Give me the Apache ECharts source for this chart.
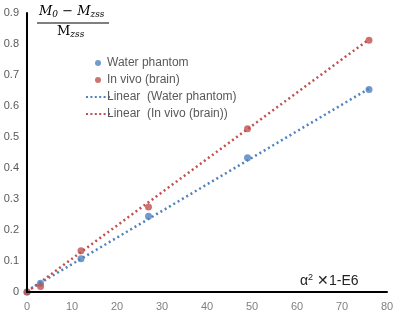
<!DOCTYPE html>
<html>
<head>
<meta charset="utf-8">
<script src="https://cdn.jsdelivr.net/npm/echarts@6/dist/echarts.min.js"></script>
<style>
    html, body { margin: 0; padding: 0; background: #fff; }
    .chart { width: 400px; height: 330px; position: absolute; left: 0; top: 0; }
</style>
</head>
<body>
<div id="chart" class="chart"></div>
<div id="axes" class="chart" style="pointer-events:none"></div>
<script>
// 数据
const seriesNames = ['Water phantom', 'In vivo (brain)', 'Linear  (Water phantom)', 'Linear  (In vivo (brain))'];
const alphaSq = [0, 3, 12, 27, 49, 76];
const waterValues = [0, 0.028, 0.107, 0.244, 0.433, 0.653];
const brainValues = [0, 0.018, 0.133, 0.274, 0.527, 0.812];
const trendX = [0, 76];
const waterTrend = [0.004, 0.656];
const brainTrend = [0, 0.815];
const xTicks = [0, 10, 20, 30, 40, 50, 60, 70, 80];
const yMax = 0.9;

function pairs(xs, ys) {
    return xs.map((x, i) => [x, ys[i]]);
}

// 图例里的点线
const dottedIcon = 'path://M0,0h2v2h-2zM4.4,0h2v2h-2zM8.8,0h2v2h-2zM13.2,0h2v2h-2zM17.6,0h2v2h-2zM22,0h2v2h-2z';
const gridBox = { left: 27, right: 13, top: 13, bottom: 38 };

function initChart() {
    const chart = echarts.init(document.getElementById('chart'));
    const blue = '#4F81BD';
    const red = '#C0504D';
    const option = {
        animation: false,
        textStyle: { fontFamily: 'Liberation Sans' },
        grid: gridBox,
        legend: {
            orient: 'vertical',
            left: 86,
            top: 57,
            padding: 0,
            itemGap: 5,
            itemWidth: 24,
            itemHeight: 6,
            textStyle: { color: '#595959', fontSize: 12, padding: [0, 0, 0, -8] },
            data: [
                { name: seriesNames[0], icon: 'circle' },
                { name: seriesNames[1], icon: 'circle' },
                { name: seriesNames[2], icon: dottedIcon },
                { name: seriesNames[3], icon: dottedIcon }
            ]
        },
        xAxis: {
            type: 'value',
            min: xTicks[0],
            max: xTicks[xTicks.length - 1],
            interval: 10,
            splitLine: { show: false },
            axisTick: { show: false },
            axisLine: { show: false },
            axisLabel: { color: '#808080', fontSize: 11, margin: 9 }
        },
        yAxis: {
            type: 'value',
            min: 0,
            max: yMax,
            interval: 0.1,
            splitLine: { show: false },
            axisTick: { show: false },
            axisLine: { show: false },
            axisLabel: { color: '#595959', fontSize: 11, margin: 8 }
        },
        graphic: [
            {
                type: 'text',
                left: 39,
                top: 5,
                style: {
                    text: '{i|M}{s|0}{o| − }{i|M}{s|zss}',
                    rich: {
                        i: { fontFamily: 'DejaVu Serif', fontStyle: 'italic', fontSize: 13, fill: '#000' },
                        o: { fontFamily: 'DejaVu Serif', fontSize: 13, fill: '#000' },
                        s: { fontFamily: 'DejaVu Serif', fontStyle: 'italic', fontSize: 9, fill: '#000', verticalAlign: 'bottom', padding: [6, 0, 0, 0] }
                    }
                }
            },
            {
                type: 'line',
                shape: { x1: 37, y1: 23, x2: 109, y2: 23 },
                style: { stroke: '#000', lineWidth: 1 }
            },
            {
                type: 'text',
                left: 57,
                top: 25,
                style: {
                    text: '{m|M}{s|zss}',
                    rich: {
                        m: { fontFamily: 'DejaVu Serif', fontSize: 13, fill: '#000' },
                        s: { fontFamily: 'DejaVu Serif', fontStyle: 'italic', fontSize: 9, fill: '#000', padding: [6, 0, 0, 0] }
                    }
                }
            },
            {
                type: 'text',
                left: 300,
                top: 273,
                style: {
                    text: '{a|α}{sup|2}{a| ✕1-E6}',
                    rich: {
                        a: { fontSize: 14, fill: '#222' },
                        sup: { fontSize: 9, fill: '#222', padding: [0, 0, 8, 0] }
                    }
                }
            }
        ],
        series: [
            {
                name: seriesNames[0],
                type: 'scatter',
                symbolSize: 7,
                itemStyle: { color: blue },
                data: pairs(alphaSq, waterValues),
                z: 3
            },
            {
                name: seriesNames[1],
                type: 'scatter',
                symbolSize: 7,
                itemStyle: { color: red },
                data: pairs(alphaSq, brainValues),
                z: 4
            },
            {
                name: seriesNames[2],
                type: 'line',
                symbol: 'none',
                itemStyle: { color: blue },
                lineStyle: { color: blue, width: 2.5, type: [2, 3] },
                data: pairs(trendX, waterTrend),
                z: 2
            },
            {
                name: seriesNames[3],
                type: 'line',
                symbol: 'none',
                itemStyle: { color: red },
                lineStyle: { color: red, width: 2.5, type: [2, 3] },
                data: pairs(trendX, brainTrend),
                z: 2
            }
        ]
    };
    chart.setOption(option);
}

// 坐标轴黑线：单独一层，和主图同样的坐标系
function initAxes() {
    const chart = echarts.init(document.getElementById('axes'));
    chart.setOption({
        animation: false,
        backgroundColor: 'transparent',
        grid: gridBox,
        xAxis: {
            type: 'value',
            min: xTicks[0],
            max: xTicks[xTicks.length - 1],
            splitLine: { show: false },
            axisTick: { show: false },
            axisLabel: { show: false },
            axisLine: { show: true, lineStyle: { color: '#000', width: 2 } }
        },
        yAxis: {
            type: 'value',
            min: 0,
            max: yMax,
            splitLine: { show: false },
            axisTick: { show: false },
            axisLabel: { show: false },
            axisLine: { show: true, lineStyle: { color: '#000', width: 2 } }
        },
        series: []
    });
}

document.addEventListener('DOMContentLoaded', function() {
    initChart();
    initAxes();
});
</script>
</body>
</html>
